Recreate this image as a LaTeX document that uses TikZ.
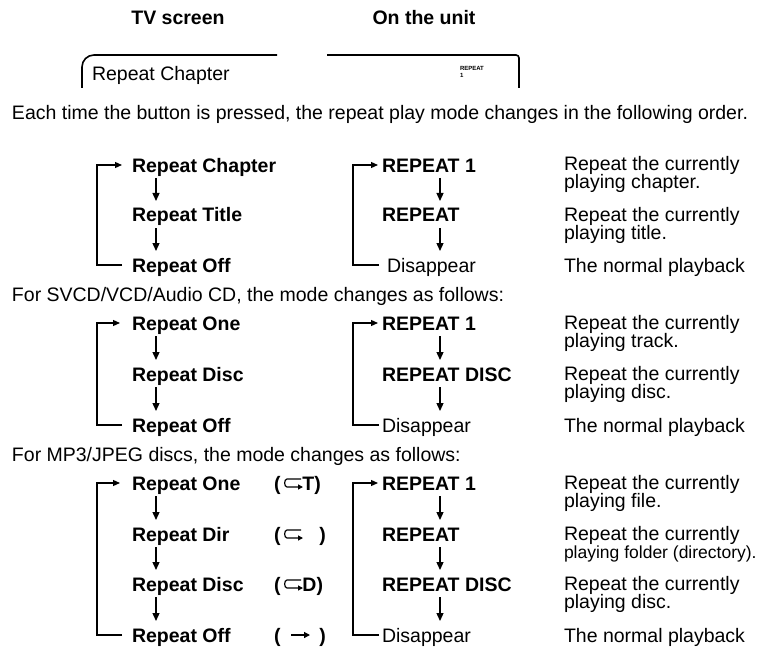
\documentclass[tikz,border=0pt]{standalone}
\usepackage{fontspec}
\setmainfont{Liberation Sans}
\usetikzlibrary{arrows.meta}
\begin{document}
\begin{tikzpicture}[x=1pt,y=-1pt,
  every node/.style={inner sep=0pt, outer sep=0pt},
  txt/.style={font=\fontsize{19.5}{17}\selectfont, text height=14pt, text depth=0pt, anchor=west},
  bt/.style={txt, font=\fontsize{19.5}{17}\selectfont\bfseries},
  small/.style={txt, font=\fontsize{17.5}{17}\selectfont},
  arr/.style={line width=1.3pt, -{Triangle[length=8pt,width=7pt]}, shorten <=6pt, shorten >=7pt},
  lp/.style={line width=1.2pt, -{Triangle[length=7pt,width=6pt]}},
  boxline/.style={line width=1.6pt},
  rep/.pic={\draw[line width=1.2pt,-{Triangle[length=5pt,width=5pt]}] (9,-4) -- (-5,-4) to[out=180,in=180] (-5,4) -- (11,4);}
]
\useasboundingbox (0,0) rectangle (765,647);
% headers
\node[bt,anchor=center] (hTV) at (178,18) {TV screen};
\node[bt,anchor=center] (hU) at (424,18) {On the unit};
% screen boxes
\draw[boxline, rounded corners=12pt] (82,88) -- (82,55) -- (277,55);
\draw[boxline, rounded corners=3pt] (327,55) -- (519,55) -- (519,88);
\node[txt] (bx) at (92,74) {Repeat Chapter};
\node[font=\fontsize{6}{6.5}\selectfont\bfseries, align=left, anchor=west] (bu) at (460,72) {REPEAT\\1};
% intro
\node[txt] (intro) at (12,113) {Each time the button is pressed, the repeat play mode changes in the following order.};
\coordinate (xT) at (156,0);
\coordinate (xU) at (440,0);
% ---------- section 1
\node[bt] (a1) at (132,165) {Repeat Chapter};
\node[bt] (a2) at (132,215) {Repeat Title};
\node[bt] (a3) at (132,265) {Repeat Off};
\node[bt] (b1) at (382,165) {REPEAT 1};
\node[bt] (b2) at (382,215) {REPEAT};
\node[txt] (b3) at (387,265) {Disappear};
\node[txt] (d1) at (564,164) {Repeat the currently};
\node[txt] (d1b) at (564,182) {playing chapter.};
\node[txt] (d2) at (564,214) {Repeat the currently};
\node[txt] (d2b) at (564,232) {playing title.};
\node[txt] (d3) at (564,265) {The normal playback};
\draw[arr] (a1.south -| xT) -- (a2.north -| xT);
\draw[arr] (a2.south -| xT) -- (a3.north -| xT);
\draw[arr] (b1.south -| xU) -- (b2.north -| xU);
\draw[arr] (b2.south -| xU) -- (b3.north -| xU);
\draw[lp] ([xshift=-10pt]a3.west) -| ([xshift=-35pt]a1.west) -- ([xshift=-10pt]a1.west);
\draw[lp] ([xshift=-8pt]b3.west) -| ([xshift=-29pt]b1.west) -- ([xshift=-4pt]b1.west);
% ---------- section 2
\node[txt] (s2) at (12,294) {For SVCD/VCD/Audio CD, the mode changes as follows:};
\node[bt] (e1) at (132,323) {Repeat One};
\node[bt] (e2) at (132,374) {Repeat Disc};
\node[bt] (e3) at (132,425) {Repeat Off};
\node[bt] (f1) at (382,323) {REPEAT 1};
\node[bt] (f2) at (382,374) {REPEAT DISC};
\node[txt] (f3) at (382,425) {Disappear};
\node[txt] (g1) at (564,322) {Repeat the currently};
\node[txt] (g1b) at (564,340) {playing track.};
\node[txt] (g2) at (564,373) {Repeat the currently};
\node[txt] (g2b) at (564,391) {playing disc.};
\node[txt] (g3) at (564,425) {The normal playback};
\draw[arr] (e1.south -| xT) -- (e2.north -| xT);
\draw[arr] (e2.south -| xT) -- (e3.north -| xT);
\draw[arr] (f1.south -| xU) -- (f2.north -| xU);
\draw[arr] (f2.south -| xU) -- (f3.north -| xU);
\draw[lp] ([xshift=-10pt]e3.west) -| ([xshift=-35pt]e1.west) -- ([xshift=-12pt]e1.west);
\draw[lp] ([xshift=-3pt]f3.west) -| ([xshift=-29pt]f1.west) -- ([xshift=-4pt]f1.west);
% ---------- section 3
\node[txt] (s3) at (12,454) {For MP3/JPEG discs, the mode changes as follows:};
\node[bt] (m1) at (132,483) {Repeat One};
\node[bt] (m2) at (132,534) {Repeat Dir};
\node[bt] (m3) at (132,584) {Repeat Disc};
\node[bt] (m4) at (132,635) {Repeat Off};
\node[bt] (q1) at (274,483) {(\hspace{22pt}T)};
\node[bt] (q2) at (274,534) {(\hspace{39pt})};
\node[bt] (q3) at (274,584) {(\hspace{22pt}D)};
\node[bt] (q4) at (274,635) {(\hspace{39pt})};
\pic at (292,483) {rep};
\pic at (292,534) {rep};
\pic at (292,584) {rep};
\draw[line width=1.3pt,-{Triangle[length=6pt,width=6pt]}] (291,635) -- (310,635);
\node[bt] (n1) at (382,483) {REPEAT 1};
\node[bt] (n2) at (382,534) {REPEAT};
\node[bt] (n3) at (382,584) {REPEAT DISC};
\node[txt] (n4) at (382,635) {Disappear};
\node[txt] (k1) at (564,482) {Repeat the currently};
\node[txt] (k1b) at (564,500) {playing file.};
\node[txt] (k2) at (564,533) {Repeat the currently};
\node[small] (k2b) at (564,551) {playing folder (directory).};
\node[txt] (k3) at (564,583) {Repeat the currently};
\node[txt] (k3b) at (564,601) {playing disc.};
\node[txt] (k4) at (564,635) {The normal playback};
\draw[arr] (m1.south -| xT) -- (m2.north -| xT);
\draw[arr] (m2.south -| xT) -- (m3.north -| xT);
\draw[arr] (m3.south -| xT) -- (m4.north -| xT);
\draw[arr] (n1.south -| xU) -- (n2.north -| xU);
\draw[arr] (n2.south -| xU) -- (n3.north -| xU);
\draw[arr] (n3.south -| xU) -- (n4.north -| xU);
\draw[lp] ([xshift=-10pt]m4.west) -| ([xshift=-35pt]m1.west) -- ([xshift=-12pt]m1.west);
\draw[lp] ([xshift=-3pt]n4.west) -| ([xshift=-29pt]n1.west) -- ([xshift=-4pt]n1.west);
\end{tikzpicture}
\end{document}
